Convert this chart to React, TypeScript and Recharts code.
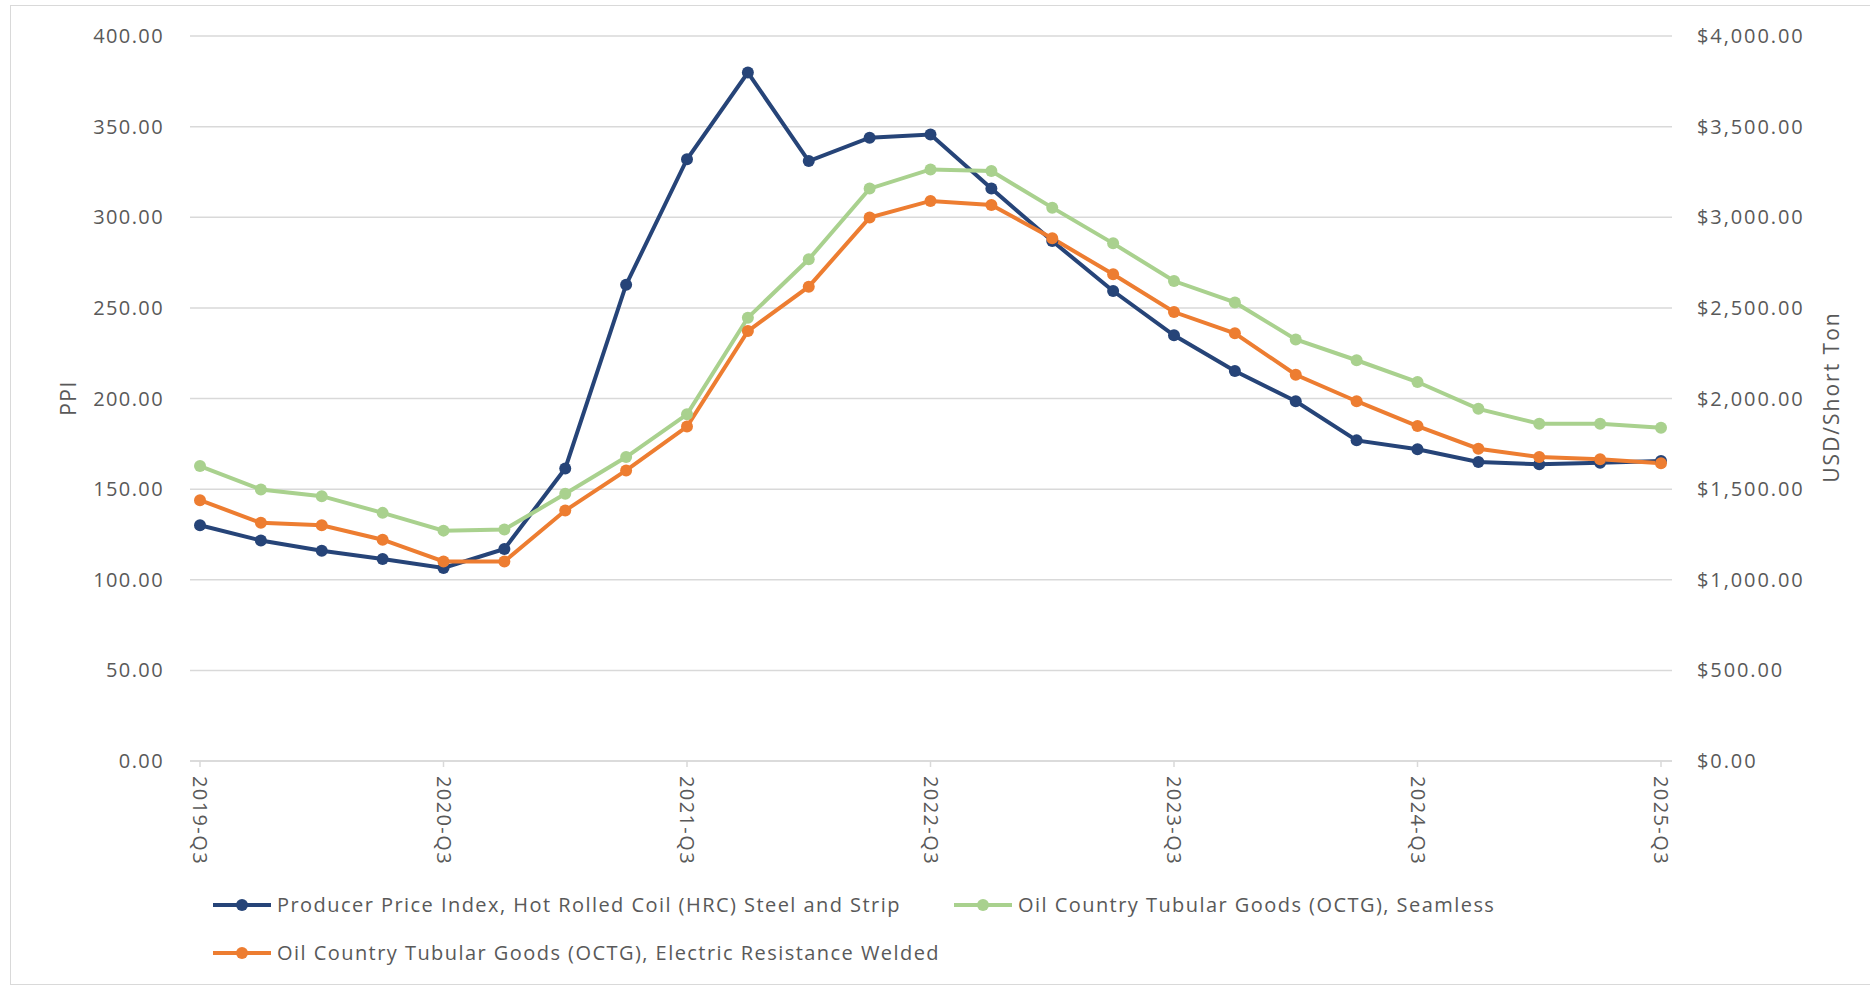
import { LineChart, Line, XAxis, YAxis, CartesianGrid } from 'recharts';

const quarters = [
  '2019-Q3', '2019-Q4', '2020-Q1', '2020-Q2', '2020-Q3', '2020-Q4', '2021-Q1', '2021-Q2',
  '2021-Q3', '2021-Q4', '2022-Q1', '2022-Q2', '2022-Q3', '2022-Q4', '2023-Q1', '2023-Q2',
  '2023-Q3', '2023-Q4', '2024-Q1', '2024-Q2', '2024-Q3', '2024-Q4', '2025-Q1', '2025-Q2',
  '2025-Q3',
];

// PPI, left axis
const hrcPpi = [
  130.1, 121.7, 116, 111.4, 106.5, 117, 161.4, 262.8, 332, 379.8, 331, 343.9, 345.7,
  315.8, 286.9, 259.3, 234.9, 215.2, 198.5, 176.9, 172, 165, 163.7, 164.6, 165.5,
];

// USD / short ton, right axis
const octgSeamless = [
  1627, 1498, 1461, 1369, 1271, 1277, 1474, 1677, 1913, 2446, 2768, 3158, 3264,
  3255, 3053, 2856, 2648, 2530, 2326, 2211, 2091, 1943, 1861, 1861, 1839,
];

const octgErw = [
  1439, 1314, 1301, 1221, 1101, 1101, 1382, 1603, 1845, 2372, 2617, 2998, 3090,
  3068, 2884, 2685, 2477, 2360, 2131, 1985, 1848, 1723, 1677, 1665, 1643,
];

const ppiTicks = [0, 50, 100, 150, 200, 250, 300, 350, 400];
const usdTicks = [0, 500, 1000, 1500, 2000, 2500, 3000, 3500, 4000];

const series = [
  { key: 'hrc', name: 'Producer Price Index, Hot Rolled Coil (HRC) Steel and Strip', color: '#264478', axis: 'left' },
  { key: 'seamless', name: 'Oil Country Tubular Goods (OCTG), Seamless', color: '#A9D18E', axis: 'right' },
  { key: 'erw', name: 'Oil Country Tubular Goods (OCTG), Electric Resistance Welded', color: '#ED7D31', axis: 'right' },
];

const data = quarters.map((q, i) => ({
  quarter: q,
  hrc: hrcPpi[i],
  seamless: octgSeamless[i],
  erw: octgErw[i],
}));

const FONT = '"Open Sans", Lato, sans-serif';
const TEXT = '#595959';
const GRID = '#d9d9d9';

const formatUsd = (v: number) =>
  '$' + v.toLocaleString('en-US', { minimumFractionDigits: 2, maximumFractionDigits: 2 });

function QuarterTick({ x, y, payload }: any) {
  return (
    <g transform={`translate(${x},${y})`}>
      <text
        transform="rotate(90)"
        x={0}
        y={0}
        dy="0.35em"
        textAnchor="start"
        fill={TEXT}
        fontSize={20}
        fontFamily={FONT}
        letterSpacing={1.4}
      >
        {payload.value}
      </text>
    </g>
  );
}

function LegendIcon({ color }: { color: string }) {
  return (
    <svg width={60} height={14} style={{ marginRight: 5, flex: 'none' }}>
      <line x1={1} y1={7} x2={59} y2={7} stroke={color} strokeWidth={4} />
      <circle cx={30} cy={7} r={6} fill={color} />
    </svg>
  );
}

const legendSpots = [
  { left: 212, top: 891 },
  { left: 953, top: 891 },
  { left: 212, top: 939 },
];

export default function App() {
  return (
    <div
      style={{
        position: 'absolute',
        left: 0,
        top: 0,
        width: 1870,
        height: 987,
        background: '#fff',
        overflow: 'hidden',
        fontFamily: FONT,
      }}
    >
      <div
        style={{
          position: 'absolute',
          left: 10,
          top: 5,
          width: 1880,
          height: 978,
          border: `1.5px solid ${GRID}`,
        }}
      />
      <div style={{ position: 'absolute', left: 0, top: 0 }}>
        <LineChart width={1870} height={987} data={data} margin={{ top: 36, right: 48, bottom: 126, left: 90 }}>
          <CartesianGrid yAxisId="left" horizontal vertical={false} stroke={GRID} strokeWidth={1.5} />
          <XAxis
            dataKey="quarter"
            interval={3}
            height={100}
            padding={{ left: 10, right: 11 }}
            axisLine={{ stroke: GRID, strokeWidth: 1.5 }}
            tickLine={{ stroke: GRID, strokeWidth: 1.5 }}
            tickSize={6}
            tickMargin={9}
            tick={<QuarterTick />}
          />
          <YAxis
            yAxisId="left"
            width={100}
            domain={[0, 400]}
            ticks={ppiTicks}
            tickFormatter={(v: number) => v.toFixed(2)}
            axisLine={false}
            tickLine={false}
            tickMargin={20}
            tick={{ fill: TEXT, fontSize: 20, fontFamily: FONT, letterSpacing: 1.4 }}
          />
          <YAxis
            yAxisId="right"
            orientation="right"
            width={150}
            domain={[0, 4000]}
            ticks={usdTicks}
            tickFormatter={formatUsd}
            axisLine={false}
            tickLine={false}
            tickMargin={19}
            tick={{ fill: TEXT, fontSize: 20, fontFamily: FONT, textAnchor: 'start', letterSpacing: 1.9 }}
          />
          {series.map((s) => (
            <Line
              key={s.key}
              yAxisId={s.axis}
              dataKey={s.key}
              name={s.name}
              stroke={s.color}
              strokeWidth={4}
              dot={{ r: 6, fill: s.color, stroke: s.color, strokeWidth: 0 }}
              activeDot={false}
              isAnimationActive={false}
            />
          ))}
        </LineChart>
      </div>

      <div
        style={{
          position: 'absolute',
          left: 68,
          top: 398,
          transform: 'translate(-50%, -50%) rotate(-90deg)',
          color: TEXT,
          fontSize: 21,
          letterSpacing: 1.5,
          whiteSpace: 'nowrap',
        }}
      >
        PPI
      </div>
      <div
        style={{
          position: 'absolute',
          left: 1831,
          top: 397,
          transform: 'translate(-50%, -50%) rotate(-90deg)',
          color: TEXT,
          fontSize: 21,
          letterSpacing: 2,
          whiteSpace: 'nowrap',
        }}
      >
        USD/Short Ton
      </div>

      {series.map((s, i) => (
        <div
          key={s.key}
          style={{
            position: 'absolute',
            left: legendSpots[i].left,
            top: legendSpots[i].top,
            display: 'flex',
            alignItems: 'center',
            color: TEXT,
            fontSize: 20,
            lineHeight: '28px',
            letterSpacing: 1.45,
            whiteSpace: 'nowrap',
          }}
        >
          <LegendIcon color={s.color} />
          <span>{s.name}</span>
        </div>
      ))}
    </div>
  );
}
